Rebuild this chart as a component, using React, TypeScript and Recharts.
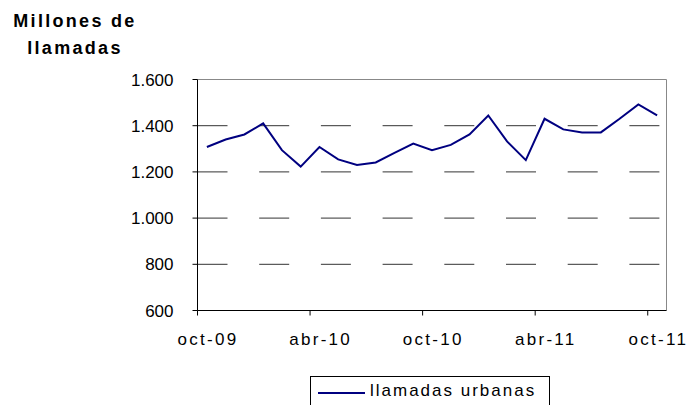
import { LineChart, Line, XAxis, YAxis, ReferenceLine, Legend } from 'recharts';

const MONTHS = [
  'oct-09', 'nov-09', 'dic-09', 'ene-10', 'feb-10', 'mar-10', 'abr-10', 'may-10', 'jun-10',
  'jul-10', 'ago-10', 'sep-10', 'oct-10', 'nov-10', 'dic-10', 'ene-11', 'feb-11', 'mar-11',
  'abr-11', 'may-11', 'jun-11', 'jul-11', 'ago-11', 'sep-11', 'oct-11',
];
const LLAMADAS_URBANAS = [
  1308, 1340, 1362, 1410, 1294, 1223, 1308, 1254, 1230, 1241, 1282, 1323, 1294,
  1317, 1362, 1444, 1332, 1251, 1430, 1384, 1371, 1371, 1430, 1492, 1445,
];
const X_TICKS = [0, 6, 12, 18, 24];
const Y_TICKS = [600, 800, 1000, 1200, 1400, 1600];
const GRID_VALUES = [800, 1000, 1200, 1400];

const data = MONTHS.map((m, i) => ({ i, mes: m, llamadas: LLAMADAS_URBANAS[i] }));

const FONT = '"Liberation Sans", Arial, sans-serif';
const W = 687;
const H = 405;
const M = { top: 79.5, right: 20.5, bottom: 0, left: 0 };
const Y_W = 197.5;
const X_H = 94.5;
const PLOT_BOTTOM = H - X_H;
const HALF = (W - M.right - Y_W) / MONTHS.length / 2;

const fmt = (v: number) => v.toLocaleString('de-DE');

function MonthTick(props: any) {
  const { x, payload } = props;
  return (
    <g>
      <line x1={x - HALF} x2={x - HALF} y1={PLOT_BOTTOM} y2={PLOT_BOTTOM + 5} stroke="#000" />
      <text x={x + 1.2} y={345} textAnchor="middle" fontSize={17} fontFamily={FONT} letterSpacing={2.3} fill="#000">
        {MONTHS[payload.value]}
      </text>
    </g>
  );
}

function LegendBox(props: any) {
  const item = props.payload?.[0];
  return (
    <div style={{ position: 'relative', width: 238, height: 30, border: '1px solid #000', background: '#fff' }}>
      <div style={{ position: 'absolute', left: 7, top: 15, width: 47, height: 2, background: '#000080' }} />
      <div style={{ position: 'absolute', left: 59, top: 4, fontSize: 17, fontFamily: FONT, letterSpacing: 2, lineHeight: '20px', whiteSpace: 'nowrap' }}>
        {item ? item.value : 'llamadas urbanas'}
      </div>
    </div>
  );
}

export default function App() {
  return (
    <div style={{ position: 'absolute', left: 0, top: 0, width: W, height: H, overflow: 'hidden', background: '#fff' }}>
      <div style={{ position: 'absolute', left: 0, top: 8, width: 150, textAlign: 'center', fontFamily: FONT, fontWeight: 'bold', fontSize: 18, letterSpacing: 2.3, lineHeight: '27px' }}>
        Millones de<br />llamadas
      </div>
      <LineChart width={W} height={H} data={data} margin={M}>
        <XAxis
          dataKey="i"
          type="number"
          domain={[-0.5, 24.5]}
          ticks={X_TICKS}
          interval={0}
          height={X_H}
          tickLine={false}
          axisLine={{ stroke: '#000' }}
          tick={<MonthTick />}
        />
        <YAxis
          type="number"
          domain={[600, 1600]}
          ticks={Y_TICKS}
          interval={0}
          width={Y_W}
          tickSize={5}
          tickMargin={19}
          tickFormatter={fmt}
          axisLine={{ stroke: '#000' }}
          tickLine={{ stroke: '#000' }}
          tick={{ fill: '#000', fontSize: 17, fontFamily: FONT }}
        />
        {GRID_VALUES.map((v) => (
          <ReferenceLine key={v} y={v} stroke="#333" strokeDasharray="30 31.7" />
        ))}
        <ReferenceLine y={1600} stroke="#888" />
        <ReferenceLine x={24.5} stroke="#888" />
        <Line
          type="linear"
          dataKey="llamadas"
          name="llamadas urbanas"
          stroke="#000080"
          strokeWidth={2}
          dot={false}
          isAnimationActive={false}
        />
        <Legend
          layout="horizontal"
          verticalAlign="middle"
          align="center"
          content={<LegendBox />}
          wrapperStyle={{ position: 'absolute', left: 310, top: 376, width: 240, height: 32 }}
        />
      </LineChart>
    </div>
  );
}
